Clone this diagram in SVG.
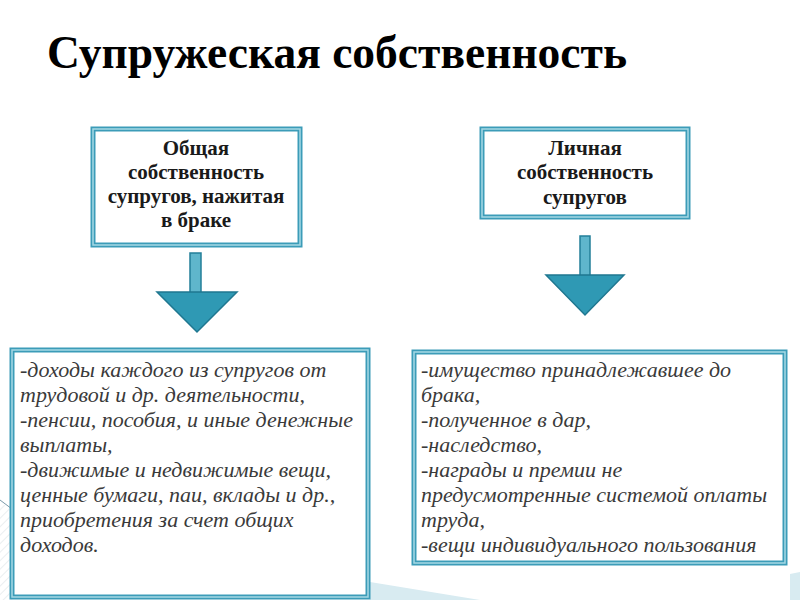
<svg xmlns="http://www.w3.org/2000/svg" width="800" height="600" viewBox="0 0 800 600">
<defs>
<pattern id="hatch" width="6" height="6" patternUnits="userSpaceOnUse" patternTransform="rotate(45)">
<line x1="0" y1="0" x2="0" y2="6" stroke="#d5dde2" stroke-width="1"/>
</pattern>
</defs>
<style>
.box{fill:#ffffff;stroke:#3c9cb8;stroke-width:5}
.inner{fill:none;stroke:#a6d9e5;stroke-width:1.5}
.title{font-family:'Liberation Serif','DejaVu Serif',serif;font-weight:bold;font-size:45.5px;fill:#000}
.head{font-family:'Liberation Serif','DejaVu Serif',serif;font-weight:bold;font-size:21px;fill:#1a1a1a;text-anchor:middle}
.body{font-family:'Liberation Serif','DejaVu Serif',serif;font-style:italic;font-size:22px;fill:#3a3a3a}
.shaft{fill:#5fb6cc;stroke:#237f99;stroke-width:1.5}
.head-tri{fill:#2f99b4;stroke:#1f7790;stroke-width:1.5}
</style>
<rect width="800" height="600" fill="#ffffff"/>
<g id="background">
<polygon points="0,502 12,510 12,600 0,600" fill="url(#hatch)"/>
<line x1="0" y1="500" x2="12" y2="509" stroke="#7a98a8" stroke-width="1"/>
<polygon points="370,582 480,600 370,600" fill="#d8ebf1"/>
<polygon points="790,574 800,572 800,600 790,600" fill="#d8ebf1"/>
</g>
<text class="title" x="47" y="68">Супружеская собственность</text>
<g id="node-common">
<rect class="box" x="93" y="129" width="207" height="116"/>
<rect class="inner" x="93" y="129" width="207" height="116"/>
<text class="head" x="196" y="155">Общая</text>
<text class="head" x="196" y="179">собственность</text>
<text class="head" x="196" y="203">супругов, нажитая</text>
<text class="head" x="196" y="227">в браке</text>
</g>
<g id="node-personal">
<rect class="box" x="482" y="129" width="206" height="88"/>
<rect class="inner" x="482" y="129" width="206" height="88"/>
<text class="head" x="585" y="155">Личная</text>
<text class="head" x="585" y="179">собственность</text>
<text class="head" x="585" y="204">супругов</text>
</g>
<g id="connectors">
<g id="arrow-left">
<rect class="shaft" x="190" y="253" width="11" height="41"/>
<polygon class="head-tri" points="157,292 237,292 197,332"/>
</g>
<g id="arrow-right">
<rect class="shaft" x="580" y="236" width="10" height="40"/>
<polygon class="head-tri" points="546,275 624,275 585,315"/>
</g>
</g>
<g id="node-common-list">
<rect class="box" x="12" y="350" width="356" height="247"/>
<rect class="inner" x="12" y="350" width="356" height="247"/>
<text class="body" x="20" y="377">-доходы каждого из супругов от</text>
<text class="body" x="20" y="402">трудовой и др. деятельности,</text>
<text class="body" x="20" y="427">-пенсии, пособия, и иные денежные</text>
<text class="body" x="20" y="452">выплаты,</text>
<text class="body" x="20" y="477">-движимые и недвижимые вещи,</text>
<text class="body" x="20" y="502">ценные бумаги, паи, вклады и др.,</text>
<text class="body" x="20" y="527">приобретения за счет общих</text>
<text class="body" x="20" y="552">доходов.</text>
</g>
<g id="node-personal-list">
<rect class="box" x="414" y="352" width="371" height="211"/>
<rect class="inner" x="414" y="352" width="371" height="211"/>
<text class="body" x="421" y="377">-имущество принадлежавшее до</text>
<text class="body" x="421" y="402">брака,</text>
<text class="body" x="421" y="427">-полученное в дар,</text>
<text class="body" x="421" y="452">-наследство,</text>
<text class="body" x="421" y="477">-награды и премии не</text>
<text class="body" x="421" y="502">предусмотренные системой оплаты</text>
<text class="body" x="421" y="527">труда,</text>
<text class="body" x="421" y="552">-вещи индивидуального пользования</text>
</g>
</svg>
